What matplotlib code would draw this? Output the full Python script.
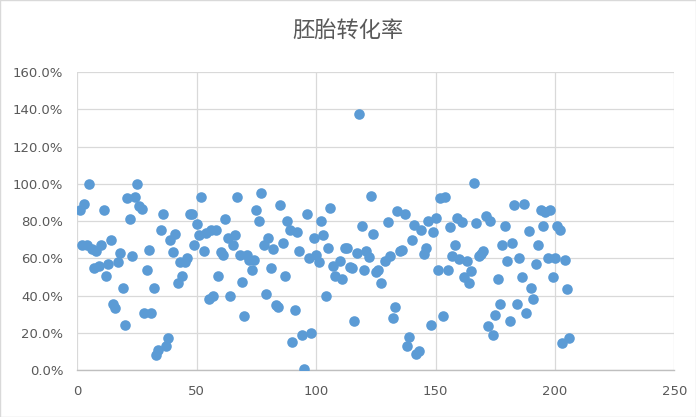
import matplotlib
matplotlib.use("Agg")
import matplotlib.pyplot as plt
from matplotlib.ticker import PercentFormatter, MultipleLocator
from matplotlib.patches import Rectangle

# sample index and conversion rate (%)
x_idx = [1, 2, 3, 4, 5, 6, 7, 8, 9, 10,
         11, 12, 13, 14, 15, 16, 17, 18, 19, 20,
         21, 22, 23, 24, 25, 26, 27, 28, 29, 30,
         31, 32, 33, 34, 35, 36, 37, 38, 39, 40,
         41, 42, 43, 44, 45, 46, 47, 48, 49, 50,
         51, 52, 53, 54, 55, 56, 57, 58, 59, 60,
         61, 62, 63, 64, 65, 66, 67, 68, 69, 70,
         71, 72, 73, 74, 75, 76, 77, 78, 79, 80,
         81, 82, 83, 84, 85, 86, 87, 88, 89, 90,
         91, 92, 93, 94, 95, 96, 97, 98, 99, 100,
         101, 102, 103, 104, 105, 106, 107, 108, 110, 111,
         112, 113, 114, 115, 116, 117, 118, 119, 120, 121,
         122, 123, 124, 125, 126, 127, 129, 130, 131, 132,
         133, 134, 135, 136, 137, 138, 139, 140, 141, 142,
         143, 144, 145, 146, 147, 148, 149, 150, 151, 152,
         153, 154, 155, 156, 157, 158, 159, 160, 161, 162,
         163, 164, 165, 166, 167, 168, 169, 170, 171, 172,
         173, 174, 175, 176, 177, 178, 179, 180, 181, 182,
         183, 184, 185, 186, 187, 188, 189, 190, 191, 192,
         193, 194, 195, 196, 197, 198, 199, 200, 201, 202,
         203, 204, 205, 206]
rate = [86, 67, 89, 67, 100, 65, 55, 64, 56, 67,
        86, 50.5, 57, 70, 35.5, 33.5, 58, 63, 44, 24,
        92.6, 81, 61, 93, 100, 88, 86.4, 30.5, 53.8, 64.5,
        30.5, 44, 8, 10.7, 75, 83.7, 13, 17, 70, 63.6,
        73, 47, 58, 50.5, 58, 60, 84, 84, 67, 78.6,
        72.5, 93, 64, 73.5, 38, 75, 40, 75, 50.5, 63.6,
        62, 81.3, 71, 40, 67, 72.8, 93, 62, 47.5, 29,
        62, 59, 54, 59, 86, 80.3, 95, 67, 41, 71,
        55, 65, 35, 33.7, 88.7, 68.5, 50.5, 80.3, 75, 15.2,
        32, 74, 64, 18.8, 0.4, 83.7, 60.4, 19.7, 70.8, 62,
        58, 80.3, 72.5, 40, 65.4, 87, 56, 50.5, 58.8, 49,
        65.4, 65.4, 55.6, 55, 26.5, 63, 137.5, 77.4, 53.8, 64,
        60.6, 93.7, 73, 52.8, 53.8, 47, 58.6, 79.4, 61, 27.8,
        33.7, 85.6, 64, 64.5, 83.7, 13, 17.6, 69.7, 78, 8.6,
        10.2, 75, 62.2, 65.4, 80, 24, 74, 81.5, 54, 92.6,
        29, 93, 53.8, 77, 61.3, 67, 81.5, 59.5, 79.4, 50.2,
        58.8, 46.6, 53.4, 100.4, 78.9, 61, 62.2, 64, 83, 23.8,
        80, 18.6, 29.5, 49, 35.5, 67, 77.4, 58.6, 26.5, 68.5,
        88.5, 35.3, 60.4, 50.2, 89.2, 30.5, 74.9, 44, 38, 56.8,
        67, 86, 77.4, 85, 60.4, 86, 50.2, 60.4, 77.4, 75,
        14.7, 59, 43.4, 17]

title = "胚胎转化率"

plt.rcParams['font.family'] = ['DejaVu Sans']
grey = '#595959'

fig = plt.figure(figsize=(6.96, 4.17), dpi=100)
ax = fig.add_axes([0.111, 0.1127, 0.858, 0.714])

ax.scatter(x_idx, rate, s=58, color='#5B9BD5', linewidths=0, zorder=3)

ax.set_xlim(0, 250)
ax.set_ylim(0, 160)
ax.xaxis.set_major_locator(MultipleLocator(50))
ax.yaxis.set_major_locator(MultipleLocator(20))
ax.yaxis.set_major_formatter(PercentFormatter(decimals=1))
ax.grid(True, color='#D9D9D9', linewidth=0.9, zorder=0)
ax.set_axisbelow(True)

for side in ['top', 'right', 'left']:
    ax.spines[side].set_visible(False)
ax.spines['bottom'].set_color('#BFBFBF')
ax.spines['bottom'].set_linewidth(1.0)

ax.tick_params(axis='both', length=0, labelsize=9.5, colors=grey)
ax.tick_params(axis='y', pad=10)
ax.tick_params(axis='x', pad=11)

fig.text(0.5, 0.925, title, ha='center', va='center', fontsize=16,
         color=grey, family=['Noto Sans CJK SC', 'DejaVu Sans'])

fig.patches.append(Rectangle((0, 0), 1, 1, transform=fig.transFigure,
                             fill=False, edgecolor='#D9D9D9', linewidth=1))

fig.savefig('out.png', dpi=100)
